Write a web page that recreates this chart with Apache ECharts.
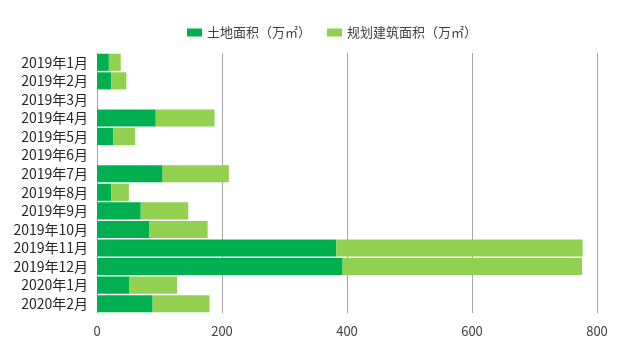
<!DOCTYPE html>
<html>
<head>
<meta charset="utf-8">
<script src="https://cdn.jsdelivr.net/npm/echarts@6/dist/echarts.min.js"></script>
<style>
  html, body { margin: 0; padding: 0; background: #fff; }
  #chart { width: 640px; height: 353px; }
</style>
</head>
<body>
<div id="chart"></div>
<script>
// 月份
const months = [
  "2019年1月", "2019年2月", "2019年3月", "2019年4月", "2019年5月",
  "2019年6月", "2019年7月", "2019年8月", "2019年9月", "2019年10月",
  "2019年11月", "2019年12月", "2020年1月", "2020年2月"
];
// 土地面积（万㎡）
const landArea = [19, 23, 0, 94, 26, 0, 105, 23, 70, 84, 383, 393, 52, 89];
// 规划建筑面积（万㎡）
const buildArea = [19, 24, 0, 94, 35, 0, 106, 28, 76, 93, 394, 383, 76, 91];
// x轴刻度
const xTicks = [0, 200, 400, 600, 800];

const seriesNames = ["土地面积（万㎡）", "规划建筑面积（万㎡）"];
const colors = ["#00b050", "#92d050"];
const fontFamily = "'Noto Sans CJK SC', 'Noto Sans', sans-serif";

const chart = echarts.init(document.getElementById("chart"));
const option = {
  color: colors,
  animation: false,
  textStyle: { fontFamily: fontFamily },
  legend: {
    top: 21,
    left: 182,
    icon: "rect",
    itemWidth: 15,
    itemHeight: 8,
    itemGap: 16,
    textStyle: { color: "#404040", fontSize: 13, fontFamily: fontFamily },
    data: seriesNames
  },
  grid: {
    left: 97,
    right: 43,
    top: 53,
    bottom: 40,
    containLabel: false
  },
  xAxis: {
    type: "value",
    min: xTicks[0],
    max: xTicks[xTicks.length - 1],
    interval: 200,
    axisLine: { show: false },
    axisTick: { show: false },
    axisLabel: { color: "#404040", fontSize: 13, margin: 12, fontFamily: fontFamily },
    splitLine: { lineStyle: { color: "#a6a6a6", width: 1 } }
  },
  yAxis: {
    type: "category",
    inverse: true,
    data: months,
    axisLine: { show: false },
    axisTick: { show: false },
    axisLabel: { color: "#262626", fontSize: 14, margin: 9, fontFamily: fontFamily }
  },
  series: [
    {
      name: seriesNames[0],
      type: "bar",
      stack: "area",
      data: landArea,
      barCategoryGap: "8%"
    },
    {
      name: seriesNames[1],
      type: "bar",
      stack: "area",
      data: buildArea,
      barCategoryGap: "8%"
    }
  ]
};
chart.setOption(option);
window.onresize = () => {
  chart.resize();
};
</script>
</body>
</html>
